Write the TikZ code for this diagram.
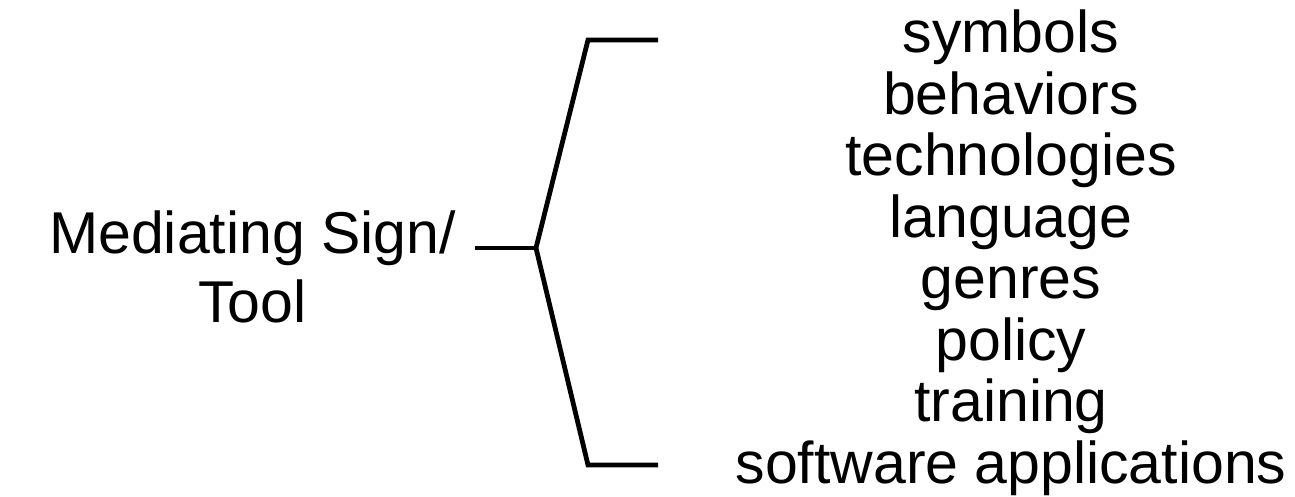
\documentclass[tikz,border=0pt]{standalone}
\usepackage{fontspec}
\setmainfont{Liberation Sans}
\begin{document}
\begin{tikzpicture}[x=1pt,y=-1pt,
  label/.style={font=\fontsize{59}{69}\selectfont, inner sep=0pt, align=center, anchor=base},
  item/.style={font=\fontsize{59}{61.4}\selectfont, inner sep=0pt, anchor=base},
  brace/.style={line width=4.8pt, line join=miter, line cap=butt}]
  \useasboundingbox (0,0) rectangle (1295,497);

  % tool label on the left (base anchor sits on the last line)
  \node[label] (tool) at (252.5,322) {Mediating Sign/\\Tool};

  % list of mediating means
  \foreach \t [count=\i] in {symbols,behaviors,technologies,language,genres,policy,training,software applications}
    \node[item] (w\i) at (1011,{53+61.43*(\i-1)}) {\t};

  % bracket joining the label to the list
  \coordinate (stem) at (475,248);
  \coordinate (fork) at (536,248);
  \coordinate (topc) at (588,40);
  \coordinate (topend) at (658,40);
  \coordinate (botc) at (588,465);
  \coordinate (botend) at (658,465);
  \draw[brace] (stem) -- (fork);
  \draw[brace] (topend) -- (topc) -- (fork) -- (botc) -- (botend);
\end{tikzpicture}
\end{document}
